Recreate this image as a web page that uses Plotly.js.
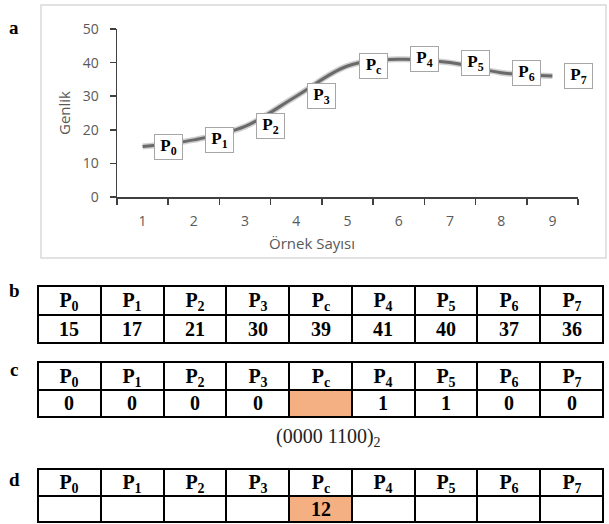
<!DOCTYPE html>
<html>
<head>
<meta charset="utf-8">
<script src="https://cdn.plot.ly/plotly-3.0.1.min.js"></script>
<style>html,body{margin:0;padding:0;background:#fff;}#chart{width:609px;height:524px;}</style>
</head>
<body>
<div id="chart"></div>
<script>
// ---- data ----
const sampleNumbers = ['1','2','3','4','5','6','7','8','9'];
const amplitudes = [15, 17, 21, 30, 39, 41, 40, 37, 36];
const pointLabels = ['P<sub>0</sub>','P<sub>1</sub>','P<sub>2</sub>','P<sub>3</sub>','P<sub>c</sub>','P<sub>4</sub>','P<sub>5</sub>','P<sub>6</sub>','P<sub>7</sub>'];
const bitValues = ['0','0','0','0','','1','1','0','0'];
const decimalValues = ['','','','','12','','','',''];
const centerIndex = 4;
const binaryText = '(0000 1100)<sub>2</sub>';
const yTicks = [0, 10, 20, 30, 40, 50];

// ---- layout helpers ----
const W = 609, H = 524;
const px = v => v / W;
const py = v => 1 - v / H;
const serif = 'Liberation Serif, Times New Roman, serif';
const sans = 'Open Sans, sans-serif';
const orange = '#F4B083';
const bold = s => s === '' ? '' : '<b>' + s + '</b>';

const traces = [
  {type:'scatter', mode:'lines', x:sampleNumbers, y:amplitudes, xaxis:'x', yaxis:'y',
   line:{color:'#cfcfcf', width:6, shape:'spline', smoothing:1}, hoverinfo:'skip'},
  {type:'scatter', mode:'lines', x:sampleNumbers, y:amplitudes, xaxis:'x', yaxis:'y',
   line:{color:'#6a6a6a', width:3, shape:'spline', smoothing:1}, hoverinfo:'skip'}
];

const colIdx = pointLabels.map((_, i) => i);
const zeroRow = pointLabels.map(() => 0);
const centerRow = pointLabels.map((_, i) => i === centerIndex ? 1 : 0);

// tables drawn as heatmaps (grid of cells)
const tables = [
  {vals: amplitudes.map(String), fillRow: zeroRow, top: 286, bot: 343},
  {vals: bitValues, fillRow: centerRow, top: 362, bot: 417},
  {vals: decimalValues, fillRow: centerRow, top: 469, bot: 522}
];

const layout = {
  width:W, height:H, margin:{l:0, r:0, t:0, b:0},
  paper_bgcolor:'#fff', plot_bgcolor:'#fff', showlegend:false, hovermode:false,
  xaxis:{type:'category', domain:[px(117), px(578)], range:[-0.5, 8.5], anchor:'y',
         tickson:'boundaries', ticks:'outside', ticklen:6, tickcolor:'#404040', tickwidth:1.5,
         showline:true, linecolor:'#404040', linewidth:1.5, showgrid:false, zeroline:false,
         tickfont:{family:sans, size:14, color:'#595959'}, ticklabelstandoff:11, automargin:false},
  yaxis:{domain:[py(197), py(29)], range:[0, 50], tickvals:yTicks, anchor:'x',
         ticks:'outside', ticklen:6, tickcolor:'#404040', tickwidth:1.5,
         showline:true, linecolor:'#404040', linewidth:1.5, showgrid:false, zeroline:false,
         tickfont:{family:sans, size:14, color:'#595959'}, ticklabelstandoff:8, automargin:false,
         title:{text:'Genlik', font:{family:sans, size:15, color:'#595959'}, standoff:8}},
  annotations: [],
  shapes:[{type:'rect', xref:'paper', yref:'paper', x0:px(41), x1:px(606), y0:py(258), y1:py(5),
           line:{color:'#d9d9d9', width:1.5}, fillcolor:'rgba(0,0,0,0)', layer:'below'}]
};

tables.forEach((t, k) => {
  const n = k + 2;
  const xa = 'x' + n, ya = 'y' + n;
  traces.push({
    type:'heatmap', xaxis:xa, yaxis:ya, x:colIdx, y:[0, 1],
    z:[zeroRow, t.fillRow], zmin:0, zmax:1, showscale:false,
    colorscale:[[0, '#ffffff'], [1, orange]], xgap:2, ygap:2,
    text:[pointLabels.map(bold), t.vals.map(bold)], texttemplate:'%{text}',
    textfont:{family:serif, size:20, color:'#000'}, hoverinfo:'skip'
  });
  layout['xaxis' + n] = {domain:[px(38), px(603)], range:[-0.5, 8.5], anchor:ya, visible:false, fixedrange:true};
  layout['yaxis' + n] = {domain:[py(t.bot), py(t.top)], range:[1.5, -0.5], anchor:xa, visible:false, fixedrange:true};
  layout.shapes.push({type:'rect', xref:xa + ' domain', yref:ya + ' domain', x0:0, x1:1, y0:0, y1:1,
    fillcolor:'#000', line:{color:'#000', width:2}, layer:'below'});
});

amplitudes.forEach((v, i) => layout.annotations.push({
  x: i + 0.5, y: v, xref:'x', yref:'y', showarrow:false, xanchor:'center', yanchor:'middle',
  text: bold(pointLabels[i]), font:{family:serif, size:17, color:'#000'},
  bgcolor:'#fff', bordercolor:'#a6a6a6', borderwidth:1, borderpad:0,
  width:27, height:24
}));
[['a', 27], ['b', 290], ['c', 369], ['d', 479]].forEach(([t, y]) => layout.annotations.push({
  x: px(14), y: py(y), xref:'paper', yref:'paper', showarrow:false, xanchor:'center', yanchor:'middle',
  text: bold(t), font:{family:serif, size:19, color:'#000'}
}));
layout.annotations.push({x: px(312), y: py(243), xref:'paper', yref:'paper', showarrow:false,
  xanchor:'center', yanchor:'middle',
  text:'Örnek Sayısı', font:{family:sans, size:15, color:'#595959'}});
layout.annotations.push({x: px(328), y: py(437), xref:'paper', yref:'paper', showarrow:false,
  xanchor:'center', yanchor:'middle',
  text: binaryText, font:{family:serif, size:20, color:'#222'}});

Plotly.newPlot('chart', traces, layout, {staticPlot:true, displayModeBar:false});
</script>
</body>
</html>
